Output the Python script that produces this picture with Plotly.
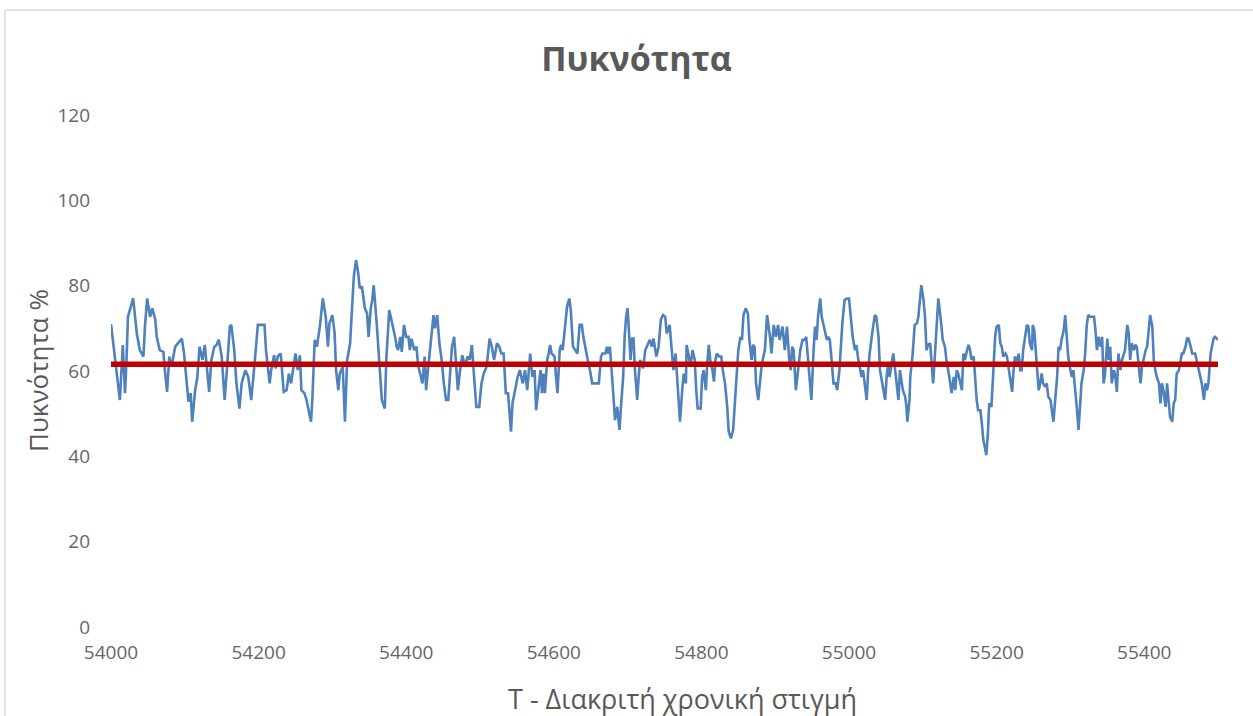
import plotly.graph_objects as go

# Discrete time instants and measured density (%), traced in order
t_values = [
    54000, 54006, 54012, 54016, 54019, 54021, 54023, 54030, 54035, 54039, 54044, 54046, 54049, 54053,
    54056, 54060, 54062, 54066, 54071, 54073, 54076, 54079, 54082, 54087, 54091, 54096, 54099, 54102,
    54105, 54108, 54110, 54114, 54117, 54120, 54124, 54127, 54130, 54133, 54136, 54140, 54143, 54146,
    54150, 54154, 54157, 54161, 54163, 54167, 54170, 54174, 54177, 54182, 54186,
    54190, 54195, 54197, 54199, 54204, 54208, 54210, 54213, 54215, 54217, 54221, 54223, 54226, 54230,
    54232, 54234, 54238, 54241, 54244, 54248, 54250, 54253, 54256, 54258, 54262, 54265, 54268, 54271,
    54273, 54276, 54279, 54283, 54287, 54291, 54294, 54296, 54300, 54303, 54305, 54308, 54310, 54314,
    54317, 54320, 54324, 54326, 54329, 54332, 54335, 54337, 54340, 54344, 54347, 54349, 54352, 54354,
    54356, 54360, 54364, 54367, 54371, 54373, 54377, 54380,
    54385, 54387, 54389, 54392, 54394, 54397, 54400, 54403, 54405, 54407, 54411, 54414, 54416, 54420,
    54422, 54425, 54427, 54429, 54432, 54434, 54437, 54439, 54442, 54445, 54448, 54451, 54454, 54457,
    54459, 54462, 54465, 54467, 54470, 54473, 54476, 54480, 54483, 54486, 54489, 54491, 54493, 54495,
    54499, 54502, 54505, 54509, 54513, 54516, 54519, 54523, 54526, 54529, 54532, 54535, 54538, 54542,
    54544, 54547, 54551, 54554, 54558, 54561, 54564, 54568, 54571, 54574,
    54576, 54579, 54582, 54584, 54586, 54588, 54591, 54593, 54595, 54597, 54601, 54603, 54605, 54608,
    54610, 54612, 54615, 54618, 54621, 54623, 54626, 54629, 54632, 54635, 54638, 54640, 54643, 54646,
    54649, 54652, 54656, 54661, 54664, 54666, 54670, 54672, 54674, 54676, 54679, 54681, 54683, 54686,
    54689, 54691, 54694, 54696, 54698, 54700, 54702, 54704, 54706, 54708, 54710, 54713, 54715, 54717,
    54721, 54724, 54727, 54730, 54733, 54735, 54739, 54742, 54745, 54748, 54751, 54753, 54757, 54760,
    54762, 54765, 54768, 54771, 54774, 54776, 54779, 54780, 54783, 54785, 54788, 54791, 54793, 54795,
    54799, 54801, 54803, 54806, 54808, 54810, 54812, 54815, 54817, 54819, 54821, 54824, 54827, 54829,
    54832, 54835, 54837, 54840, 54843, 54845, 54847, 54850, 54853, 54855, 54857, 54860, 54863, 54865,
    54868, 54870, 54872, 54874, 54877, 54879, 54881, 54883, 54886, 54889, 54893, 54895, 54898, 54901,
    54904, 54906, 54910, 54913, 54916, 54919, 54921, 54923, 54925, 54928, 54931, 54934, 54937, 54940,
    54942, 54944, 54947, 54949,
    54952, 54954, 54956, 54958, 54961, 54963, 54965, 54967, 54970, 54972, 54974, 54976, 54979, 54982,
    54984, 54987, 54989, 54991, 54994, 54997, 55000, 55002, 55005, 55008, 55010, 55012, 55015, 55017,
    55019, 55022, 55024, 55026, 55028, 55032, 55035, 55037, 55040, 55042, 55045, 55049, 55051, 55053,
    55055, 55058, 55060, 55062, 55064, 55067, 55069, 55071, 55073, 55076, 55078, 55079, 55082, 55083,
    55086, 55089, 55092, 55094, 55096, 55098, 55101, 55103, 55105, 55107, 55110, 55112, 55114, 55116,
    55119, 55121, 55124, 55127, 55130, 55132, 55136, 55139, 55142,
    55144, 55146, 55148, 55151, 55153, 55155, 55157, 55160, 55162, 55164, 55166, 55169, 55171, 55173,
    55175, 55178, 55180, 55182, 55184, 55186, 55188, 55190, 55193, 55196, 55198, 55200, 55203, 55205,
    55207, 55209, 55212, 55214, 55216, 55218, 55221, 55223, 55225, 55227, 55230, 55232, 55234, 55236,
    55239, 55241, 55243, 55245, 55248, 55249, 55251, 55254, 55255, 55257, 55259, 55261, 55263, 55266,
    55268, 55270, 55273, 55275, 55277, 55279, 55282, 55284, 55286, 55288, 55291, 55293, 55295, 55297,
    55300, 55302, 55304, 55306, 55309, 55311, 55313, 55315, 55318, 55320, 55322, 55324, 55327,
    55332, 55334, 55336, 55338, 55341, 55343, 55345, 55347, 55350, 55352, 55354, 55356, 55359, 55361,
    55363, 55365, 55368, 55370, 55372, 55374, 55377, 55379, 55381, 55383, 55386, 55388, 55390, 55392,
    55395, 55397, 55399, 55402, 55404, 55406, 55408, 55411, 55413, 55415, 55417, 55420, 55422, 55424,
    55426, 55429, 55431, 55433, 55435, 55438, 55440, 55442, 55444, 55447, 55449, 55451, 55453, 55456,
    55458, 55460, 55463, 55465, 55467, 55469, 55472, 55474, 55476, 55478, 55481, 55483, 55485, 55487,
    55490, 55492, 55494, 55496, 55500,
]

density = [
    71, 62.6, 53.2, 66.1, 54.8, 62.6, 72.7, 77, 68.8, 64.9, 63.4, 70.4, 77, 72.7,
    74.7, 72, 68, 64.9, 64.5, 60.2, 55.1, 63.4, 61, 65.7, 66.5, 67.6, 64.1, 58.3,
    52.8, 54.8, 48.1, 55.5, 58.6, 65.7, 62.6, 66.1, 61, 55.1, 62.6, 65.7, 66.1, 67.3,
    63.4, 53.2, 60.2, 70.4, 70.8, 64.9, 57.1, 51.2, 57.1, 60.2, 58.6,
    53.2, 62.6, 68, 70.8, 70.8, 70.8, 64.9, 59.4, 57.1, 60.2, 63.7, 60.6, 63.4, 64.1,
    58.6, 55.1, 55.5, 59.4, 57.1, 61.8, 64.1, 60.2, 63.7, 55.5, 54.8, 53.2, 50.9, 48.1,
    54, 67.3, 65.7, 70.4, 77, 72.7, 65.7, 71.2, 73.1, 68.8, 60.2, 55.5, 59.4, 61,
    48.1, 62.6, 66.5, 74.3, 82.1, 86, 82.9, 79.4, 79.8, 74.7, 73.5, 68, 74.7, 76.6,
    80.1, 71.2, 61, 53.2, 51.2, 62.6, 74.3, 72,
    68, 65.7, 64.9, 68, 64.5, 70.8, 68, 68, 64.9, 67.6, 64.9, 65.7, 61.4, 58.6,
    57.1, 63.4, 55.5, 59.4, 64.9, 68.8, 73.1, 70, 73.1, 66.5, 62.6, 57.1, 53.2, 53.2,
    59.4, 65.7, 68, 63.4, 55.5, 60.2, 63.7, 61, 63.4, 62.6, 66.1, 61, 55.5, 51.6,
    51.6, 57.1, 59.4, 61, 67.6, 65.7, 62.6, 66.5, 65.7, 64.1, 64.1, 54.8, 54.8, 45.8,
    52.4, 55.5, 58.6, 60.2, 57.1, 60.2, 55.5, 64.1, 58.6, 60.2,
    50.8, 55.5, 60.2, 54.8, 59.4, 54.8, 62.6, 64.1, 66.1, 64.1, 63.4, 58.6, 54.8, 64.9,
    66.1, 64.9, 70.4, 75.1, 77, 74.3, 65.7, 64.9, 64.1, 70.8, 70.8, 68, 64.9, 62.6,
    60.2, 57.1, 57.1, 57.1, 63.4, 64.1, 64.1, 65.7, 64.1, 65.7, 58.6, 54, 48.5, 51.6,
    46.2, 51.6, 58.6, 68, 72.7, 74.7, 68, 62.6, 67.6, 67.6, 60.2, 53.2, 58.6, 62.6,
    60.6, 64.9, 66.1, 67.3, 65.7, 67.6, 63.4, 65.7, 72, 73.1, 72.7, 68.8, 70.8, 64.9,
    60.2, 64.1, 55.5, 48.1, 55.5, 59.4, 57.1, 66.1, 63.4, 61, 64.9, 62.6, 55.5, 51.2,
    51.2, 58.6, 60.2, 55.5, 61.8, 66.1, 62.6, 60.2, 57.5, 62.6, 64.1, 63.4, 63.4, 60.2,
    57.1, 51.6, 45.8, 44.2, 46.2, 51.6, 58.6, 64.9, 68, 67.3, 73.1, 74.7, 73.5, 67.3,
    62.6, 66.1, 65.7, 57.1, 53.2, 57.1, 60.2, 62.6, 64.9, 73.1, 68, 64.1, 70.8, 68,
    70.8, 67.3, 70.4, 64.9, 70.4, 62.6, 60.2, 65.7, 64.9, 55.5, 60.2, 64.9, 67.3, 67.3,
    68, 63.4, 57.1, 53.2,
    64.9, 70.4, 67.3, 72.7, 77, 72.7, 71.2, 69.6, 67.3, 68, 67.3, 63.4, 57.1, 57.1,
    55.5, 60.2, 65.7, 71.2, 76.6, 77, 77, 72.7, 68, 64.9, 66.1, 63.4, 61, 58.6,
    60.2, 56.3, 53.2, 60.2, 64.1, 69.6, 73.1, 72.7, 68, 60.2, 57.1, 53.2, 58.6, 61.8,
    58.6, 61.8, 64.1, 61, 57.1, 53.2, 60.2, 57.1, 55.5, 54, 51.6, 48.1, 53.2, 58.6,
    63.4, 70.8, 71.2, 72.7, 76.6, 80.1, 76.6, 72.7, 64.9, 66.1, 66.5, 62.6, 57.1, 62.6,
    72.7, 77, 72.7, 67.3, 65.7, 62.6, 58.6, 54.8, 58.6,
    55.5, 60.2, 59.4, 57.1, 55.5, 64.1, 62.6, 64.9, 66.1, 64.9, 62.6, 63.4, 57.1, 53.2,
    50.8, 50.8, 47.7, 43.8, 42.3, 40.3, 44.6, 52.4, 51.6, 62.6, 68, 70.4, 70.8, 66.5,
    65.7, 63.4, 64.1, 63.4, 61, 58.6, 55.1, 60.2, 63.4, 61.8, 64.1, 60.2, 60.2, 64.9,
    68, 70.8, 70.4, 66.5, 64.9, 70.8, 69.6, 62.6, 58.6, 55.5, 57.1, 59.4, 57.1, 56.3,
    57.1, 54, 53.2, 50.8, 48.1, 52.4, 58.6, 65.7, 64.9, 67.3, 69.6, 73.1, 68, 63.4,
    60.2, 58.6, 60.2, 55.5, 50.8, 46.2, 51.6, 57.1, 60.2, 64.1, 70.4, 73.1, 72.7,
    72.7, 69.6, 64.9, 68, 65.7, 68, 57.1, 59.4, 67.6, 62.6, 65.7, 57.1, 60.2, 58.6,
    55.1, 64.1, 60.2, 62.6, 64.1, 64.9, 70.8, 68.8, 62.6, 66.5, 64.9, 66.1, 65.7, 62.6,
    57.1, 61, 62.6, 64.9, 65.7, 69.6, 73.1, 70.4, 62.6, 60.2, 58.6, 57.1, 52.4, 57.1,
    55.5, 51.6, 57.1, 53.2, 49.3, 48.1, 52.4, 53.2, 59.4, 60.2, 62.6, 64.1, 64.1, 65.7,
    67.6, 67.6, 65.7, 64.1, 64.1, 64.1, 61.8, 60.2, 58.6, 57.1, 53.2, 57.1, 55.5, 57.1,
    64.1, 65.7, 67.6, 68, 67.3,
]

# Mean density level drawn as a reference line
mean_density = 61.6

x_ticks = [54000, 54200, 54400, 54600, 54800, 55000, 55200, 55400]
x_tick_labels = ["54000", "54200", "54400", "54600", "54800", "55000", "55200", "55400"]
y_ticks = [0, 20, 40, 60, 80, 100, 120]
y_tick_labels = ["0", "20", "40", "60", "80", "100", "120"]

title_text = "Πυκνότητα"
x_title = "T - Διακριτή χρονική στιγμή"
y_title = "Πυκνότητα %"

FONT = "Open Sans"
GREY = "#595959"
TICK_GREY = "#666666"

fig = go.Figure()

fig.add_trace(go.Scatter(
    x=t_values, y=density, mode="lines",
    line=dict(color="#4F81BD", width=2.6),
    hoverinfo="x+y", showlegend=False,
))

fig.add_trace(go.Scatter(
    x=[t_values[0], t_values[-1]], y=[mean_density, mean_density], mode="lines",
    line=dict(color="#C00000", width=5.5),
    hoverinfo="y", showlegend=False,
))

fig.update_layout(
    width=1253, height=716,
    margin=dict(l=111, r=35, t=115, b=89),
    paper_bgcolor="white", plot_bgcolor="white",
    font=dict(family=FONT, color=GREY),
    title=dict(
        text="<b>" + title_text + "</b>",
        x=0.508, xanchor="center", xref="container",
        y=0.917, yanchor="middle", yref="container",
        font=dict(family=FONT, size=34, color=GREY),
    ),
    xaxis=dict(
        range=[54000, 55500],
        tickvals=x_ticks, ticktext=x_tick_labels,
        showgrid=False, zeroline=False, showline=False, ticks="",
        tickfont=dict(family=FONT, size=19, color=TICK_GREY),
        ticklabelstandoff=12,
    ),
    yaxis=dict(
        range=[0, 120],
        tickvals=y_ticks, ticktext=y_tick_labels,
        showgrid=False, zeroline=False, showline=False, ticks="",
        tickfont=dict(family=FONT, size=19, color=TICK_GREY),
        ticklabelstandoff=20,
    ),
    annotations=[
        dict(text=x_title, xref="paper", yref="paper", x=0.516, y=-0.139,
             xanchor="center", yanchor="middle", showarrow=False,
             font=dict(family=FONT, size=27, color=GREY)),
        dict(text=y_title, xref="paper", yref="paper", x=-0.066, y=0.502,
             xanchor="center", yanchor="middle", textangle=-90, showarrow=False,
             font=dict(family=FONT, size=26, color=GREY)),
    ],
    shapes=[
        # chart-area frame (top and left edges)
        dict(type="line", xref="paper", yref="paper", x0=-0.0958, x1=1.05, y0=1.205, y1=1.205,
             line=dict(color="#D9D9D9", width=1.5)),
        dict(type="line", xref="paper", yref="paper", x0=-0.0958, x1=-0.0958, y0=-0.25, y1=1.205,
             line=dict(color="#D9D9D9", width=1.5)),
    ],
)

fig.write_html("out.html")
